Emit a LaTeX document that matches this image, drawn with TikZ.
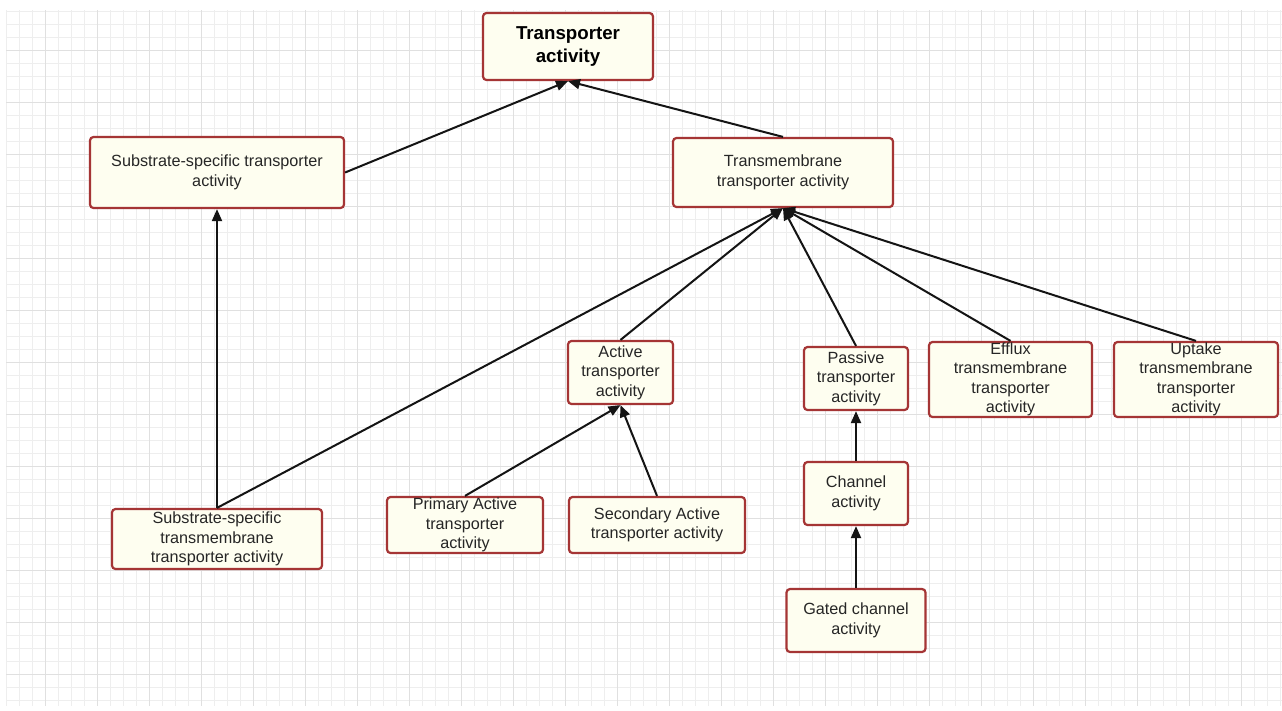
\documentclass[tikz,border=0pt]{standalone}
\usepackage{fontspec}
\setmainfont{Liberation Sans}
\usetikzlibrary{arrows.meta}
\definecolor{boxfill}{HTML}{FEFEF0}
\definecolor{boxedge}{HTML}{A53535}
\definecolor{gridminor}{HTML}{EEEEEE}
\definecolor{gridmajor}{HTML}{E0E0E0}
\definecolor{txt}{HTML}{262626}

\begin{document}
\begin{tikzpicture}[x=1pt,y=-1pt,
  box/.style={draw=boxedge, fill=boxfill, line width=2.2pt, rounded corners=3.5pt,
    inner sep=0pt, text=txt, align=center,
    font=\fontsize{16.2}{19.5}\selectfont},
  titlebox/.style={box, text=black, font=\bfseries\fontsize{18.7}{23}\selectfont},
  link/.style={line width=2pt, draw=black!92, -{Triangle[length=12pt,width=10pt]}}]

% canvas and page frame
\useasboundingbox (0,0) rectangle (1282,710);
\fill[white] (0,0) rectangle (1282,710);

% background grid
\foreach \k in {0,...,98}
  \draw[gridminor, line width=1pt] (6.3+13*\k, 10) -- (6.3+13*\k, 706);
\foreach \k in {0,...,53}
  \draw[gridminor, line width=1pt] (6, 11.7+13*\k) -- (1282, 11.7+13*\k);
\foreach \k in {0,...,23}
  \draw[gridmajor, line width=1pt] (45.3+52*\k, 10) -- (45.3+52*\k, 706);
\foreach \k in {0,...,12}
  \draw[gridmajor, line width=1pt] (6, 50.7+52*\k) -- (1282, 50.7+52*\k);

% activity boxes
\node[titlebox, minimum width=170, minimum height=67] (T) at (568,46.5) {Transporter\\activity};
\node[box, minimum width=254, minimum height=71] (SS) at (217,172.5) {Substrate-specific transporter\\activity};
\node[box, minimum width=220, minimum height=69] (TM) at (783,172.5) {Transmembrane\\transporter activity};
\node[box, minimum width=105, minimum height=63] (A) at (620.5,372.5) {Active\\transporter\\activity};
\node[box, minimum width=104, minimum height=63] (P) at (856,378.5) {Passive\\transporter\\activity};
\node[box, minimum width=163, minimum height=75] (E) at (1010.5,379.5) {Efflux\\transmembrane\\transporter\\activity};
\node[box, minimum width=164, minimum height=75] (U) at (1196,379.5) {Uptake\\transmembrane\\transporter\\activity};
\node[box, minimum width=210, minimum height=60] (SSTT) at (217,539) {Substrate-specific\\transmembrane\\transporter activity};
\node[box, minimum width=156, minimum height=56] (PA) at (465,525) {Primary Active\\transporter\\activity};
\node[box, minimum width=176, minimum height=56] (SA) at (657,525) {Secondary Active\\transporter activity};
\node[box, minimum width=104, minimum height=63] (C) at (856,493.5) {Channel\\activity};
\node[box, minimum width=139, minimum height=63] (G) at (856,620.5) {Gated channel\\activity};

% is-a links
\draw[link] (SS.east) -- (T.south);
\draw[link] (TM.north) -- (T.south);
\draw[link] (SSTT.north) -- (SS.south);
\draw[link] (SSTT.north) -- (TM.south);
\draw[link] (A.north) -- (TM.south);
\draw[link] (P.north) -- (TM.south);
\draw[link] (E.north) -- (TM.south);
\draw[link] (U.north) -- (TM.south);
\draw[link] (PA.north) -- (A.south);
\draw[link] (SA.north) -- (A.south);
\draw[link] (C.north) -- (P.south);
\draw[link] (G.north) -- (C.south);
\end{tikzpicture}
\end{document}
